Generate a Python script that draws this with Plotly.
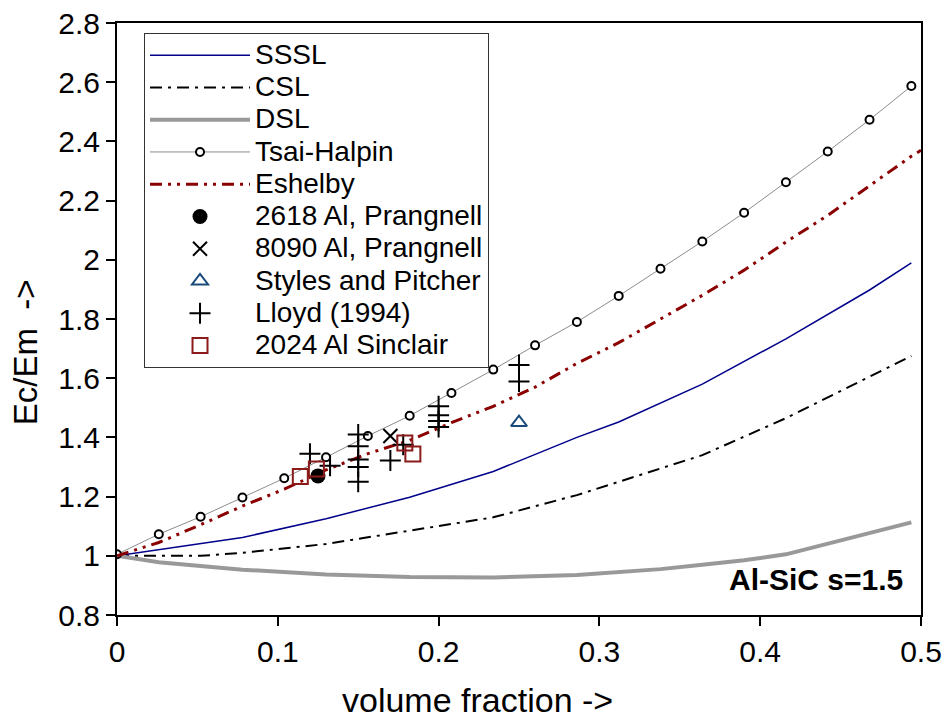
import plotly.graph_objects as go

# ---- data ----
th_x = [0, 0.026, 0.052, 0.078, 0.104, 0.13, 0.156, 0.182, 0.208, 0.234,
        0.26, 0.286, 0.312, 0.338, 0.364, 0.39, 0.416, 0.442, 0.468, 0.494]
th_y = [1.005, 1.073, 1.132, 1.197, 1.262, 1.333, 1.405, 1.473, 1.55, 1.629,
        1.711, 1.79, 1.878, 1.970, 2.062, 2.159, 2.262, 2.366, 2.473, 2.587]

esh_x = [0, 0.026, 0.052, 0.078, 0.104, 0.13, 0.156, 0.182, 0.208, 0.234,
         0.26, 0.286, 0.312, 0.338, 0.364, 0.39, 0.416, 0.442, 0.468, 0.494, 0.5]
esh_y = [1.0, 1.045, 1.105, 1.168, 1.225, 1.29, 1.345, 1.39, 1.45, 1.505,
         1.57, 1.65, 1.72, 1.80, 1.88, 1.965, 2.06, 2.15, 2.25, 2.35, 2.37]

sssl_x = [0, 0.026, 0.052, 0.078, 0.13, 0.182, 0.234, 0.286, 0.312, 0.364, 0.416, 0.468, 0.494]
sssl_y = [1.0, 1.02, 1.04, 1.062, 1.125, 1.198, 1.285, 1.40, 1.452, 1.58, 1.733, 1.898, 1.99]

csl_x = [0, 0.026, 0.052, 0.078, 0.13, 0.182, 0.234, 0.286, 0.312, 0.364, 0.416, 0.468, 0.494]
csl_y = [1.0, 1.0, 1.0, 1.01, 1.04, 1.085, 1.13, 1.205, 1.25, 1.34, 1.465, 1.605, 1.675]

dsl_x = [0, 0.026, 0.078, 0.13, 0.182, 0.234, 0.286, 0.338, 0.364, 0.39, 0.416, 0.442, 0.468, 0.494]
dsl_y = [1.0, 0.978, 0.953, 0.937, 0.928, 0.927, 0.935, 0.955, 0.97, 0.985, 1.005, 1.04, 1.075, 1.113]

p2618_x = [0.125]
p2618_y = [1.27]

p8090_x = [0.17]
p8090_y = [1.405]

styles_x = [0.25]
styles_y = [1.45]

lloyd_x = [0.12, 0.1325, 0.15, 0.15, 0.15, 0.15, 0.15, 0.17, 0.178,
           0.2, 0.2, 0.2, 0.2, 0.25, 0.25]
lloyd_y = [1.345, 1.304, 1.41, 1.37, 1.325, 1.30, 1.25, 1.322, 1.375,
           1.505, 1.475, 1.455, 1.435, 1.645, 1.589]

sinclair_x = [0.114, 0.124, 0.179, 0.184]
sinclair_y = [1.268, 1.293, 1.381, 1.344]

x_ticks = [0, 0.1, 0.2, 0.3, 0.4, 0.5]
x_ticklabels = ["0", "0.1", "0.2", "0.3", "0.4", "0.5"]
y_ticks = [0.8, 1.0, 1.2, 1.4, 1.6, 1.8, 2.0, 2.2, 2.4, 2.6, 2.8]
y_ticklabels = ["0.8", "1", "1.2", "1.4", "1.6", "1.8", "2", "2.2", "2.4", "2.6", "2.8"]

FONT = "Liberation Sans, Arial, sans-serif"
LEG_FS = 28


def lg(name):
    return '<span style="font-size:%dpx">%s</span>' % (LEG_FS, name)


fig = go.Figure()
fig.add_trace(go.Scatter(x=sssl_x, y=sssl_y, mode="lines", name=lg("SSSL"),
                         line=dict(color="#00008B", width=1.5)))
fig.add_trace(go.Scatter(x=csl_x, y=csl_y, mode="lines", name=lg("CSL"),
                         line=dict(color="black", width=2, dash="12px,6px,3px,6px")))
fig.add_trace(go.Scatter(x=dsl_x, y=dsl_y, mode="lines", name=lg("DSL"),
                         line=dict(color="#999999", width=4)))
fig.add_trace(go.Scatter(x=th_x, y=th_y, mode="lines+markers", name=lg("Tsai-Halpin"),
                         line=dict(color="#8c8c8c", width=1),
                         marker=dict(symbol="circle", size=8, color="white",
                                     line=dict(color="black", width=2))))
fig.add_trace(go.Scatter(x=esh_x, y=esh_y, mode="lines", name=lg("Eshelby"),
                         line=dict(color="#8B0000", width=3,
                                   dash="12px,6px,3px,6px,3px,6px")))
fig.add_trace(go.Scatter(x=p2618_x, y=p2618_y, mode="markers", name=lg("2618 Al, Prangnell"),
                         marker=dict(symbol="circle", size=15, color="black")))
fig.add_trace(go.Scatter(x=p8090_x, y=p8090_y, mode="markers", name=lg("8090 Al, Prangnell"),
                         marker=dict(symbol="x-thin", size=14,
                                     line=dict(color="black", width=2))))
fig.add_trace(go.Scatter(x=styles_x, y=styles_y, mode="markers", name=lg("Styles and Pitcher"),
                         marker=dict(symbol="triangle-up-open", size=14, color="#1a4a7a",
                                     line=dict(color="#1a4a7a", width=2))))
fig.add_trace(go.Scatter(x=lloyd_x, y=lloyd_y, mode="markers", name=lg("Lloyd (1994)"),
                         marker=dict(symbol="cross-thin", size=15,
                                     line=dict(color="black", width=2))))
fig.add_trace(go.Scatter(x=sinclair_x, y=sinclair_y, mode="markers", name=lg("2024 Al Sinclair"),
                         marker=dict(symbol="square-open", size=15, color="#8B1A1A",
                                     line=dict(color="#8B1A1A", width=2))))

# in-plot label
fig.add_annotation(x=0.98, y=0.06, xref="paper", yref="paper", text="<b>Al-SiC s=1.5</b>",
                   showarrow=False, xanchor="right", yanchor="middle",
                   font=dict(family=FONT, size=30, color="black"))
# axis titles
fig.add_annotation(x=0.448, y=-0.1436, xref="paper", yref="paper", text="volume fraction ->",
                   showarrow=False, xanchor="center", yanchor="middle",
                   font=dict(family=FONT, size=34, color="black"))
fig.add_annotation(x=-0.1144, y=0.444, xref="paper", yref="paper", text="Ec/Em  ->",
                   showarrow=False, xanchor="center", yanchor="middle", textangle=-90,
                   font=dict(family=FONT, size=33, color="black"))

axis_common = dict(showline=True, linecolor="black", linewidth=2, mirror=True,
                   ticks="outside", ticklen=9, tickwidth=2, tickcolor="black",
                   showgrid=False, zeroline=False,
                   tickfont=dict(family=FONT, size=30, color="black"))

fig.update_xaxes(range=[0, 0.5], tickvals=x_ticks, ticktext=x_ticklabels, **axis_common)
fig.update_yaxes(range=[0.8, 2.8], tickvals=y_ticks, ticktext=y_ticklabels, **axis_common)

fig.update_layout(
    width=947, height=718,
    margin=dict(l=117, r=26, t=23, b=103, autoexpand=False),
    plot_bgcolor="white", paper_bgcolor="white",
    font=dict(family=FONT, size=22, color="black"),
    legend=dict(x=0.0336, y=0.983, xanchor="left", yanchor="top",
                bgcolor="white", bordercolor="#333333", borderwidth=1,
                font=dict(family=FONT, size=22.5, color="black"),
                itemwidth=100, tracegroupgap=0, itemsizing="trace"),
    showlegend=True,
)

fig.write_html("out.html", config={"displayModeBar": False},
               post_script="document.body.style.margin='0';")
